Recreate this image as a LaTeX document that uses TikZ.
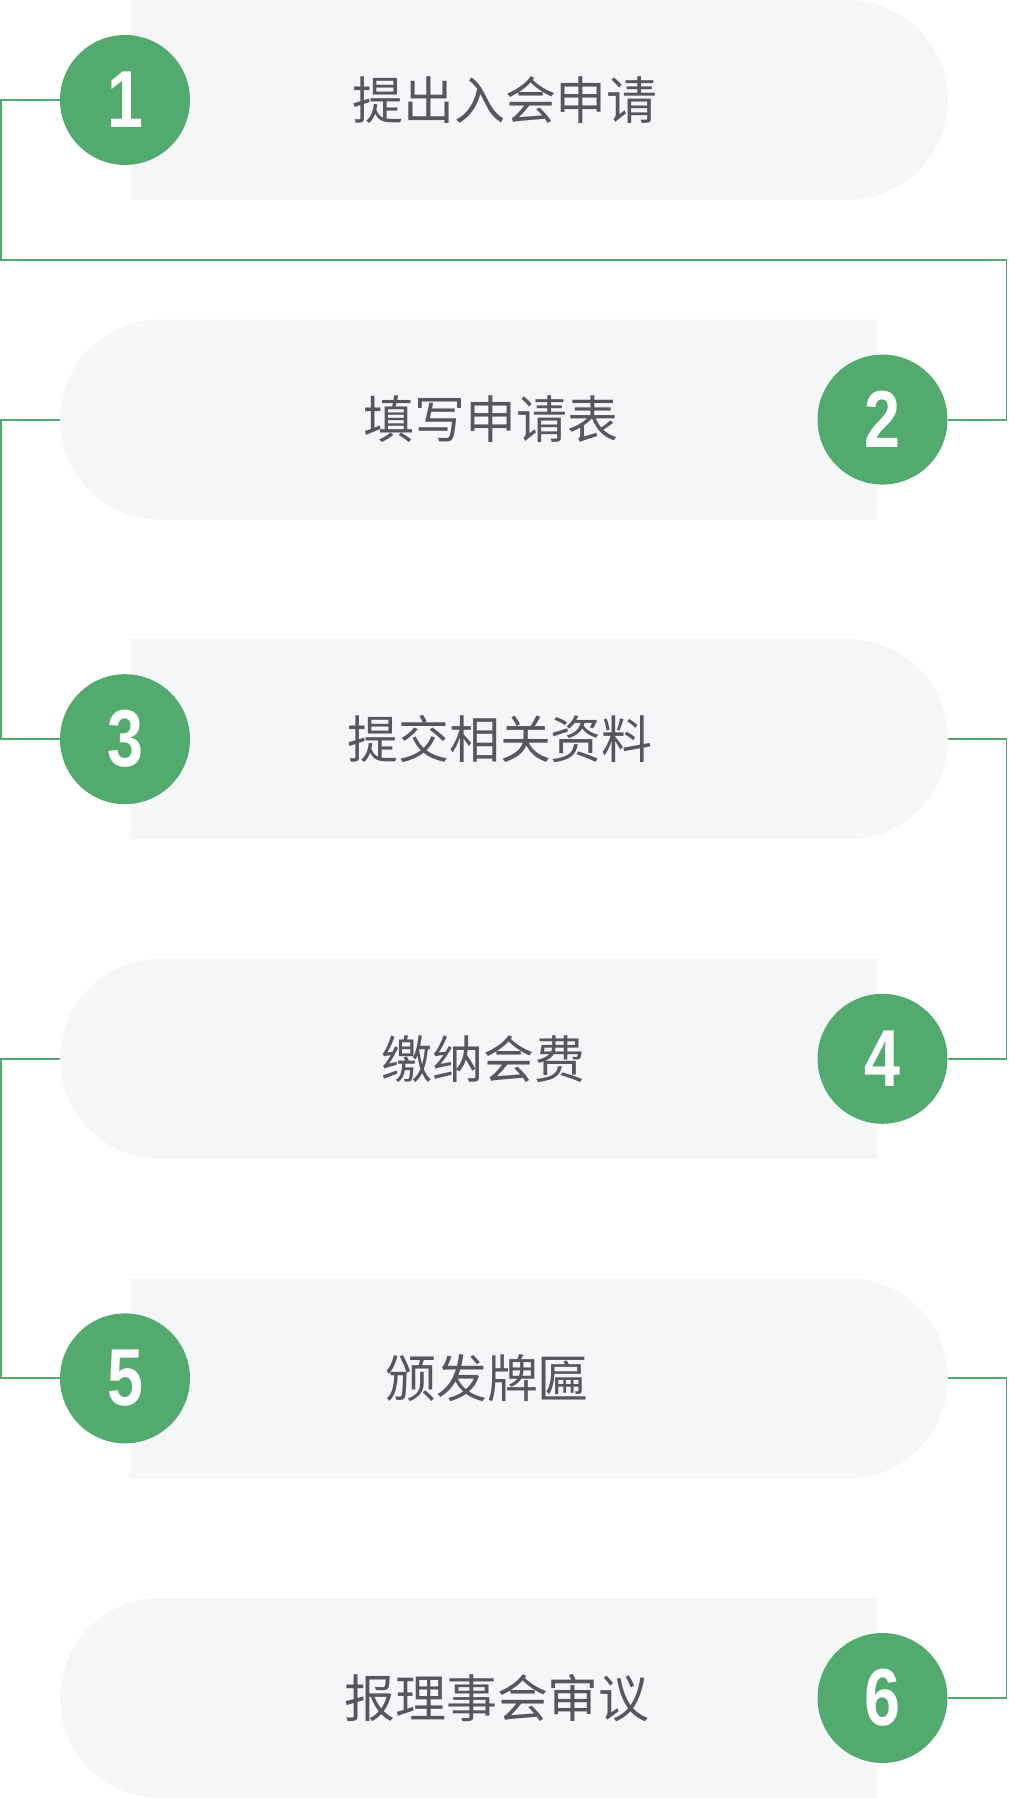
\documentclass[tikz,border=0pt]{standalone}
\usepackage{fontspec}
\usetikzlibrary{shapes.misc}
\newfontfamily\cjk{Noto Sans CJK SC}
\newfontfamily\numfont{Liberation Sans}
\definecolor{leafgreen}{HTML}{52AA6F}
\definecolor{pillgray}{HTML}{F5F6F8}
\definecolor{inkgray}{HTML}{55575C}
\newcommand{\squeeze}[1]{\scalebox{0.8}[1]{#1}}
\tikzset{
  pill/.style={rounded rectangle,fill=pillgray,inner sep=0pt,outer sep=0pt,minimum width=16.36cm,minimum height=4cm},
  badge/.style={circle,fill=leafgreen,inner sep=0pt,outer sep=0pt,minimum size=2.6cm,text=white,font=\fontsize{46}{46}\selectfont\numfont\bfseries},
  caption/.style={text=inkgray,font=\fontsize{29}{29}\selectfont\cjk},
  link/.style={draw=leafgreen,line width=1.1pt}
}
\begin{document}
\begin{tikzpicture}[x=0.02cm,y=0.02cm]
\useasboundingbox (0,0) rectangle (1008,1798);
\coordinate (railL) at (1,0);
\coordinate (railR) at (1006.5,0);
\coordinate (bend12) at (0,1538);
\foreach \i/\c/\t/\x in {1/1698/提出入会申请/505,3/1058.8/提交相关资料/500,5/419.6/颁发牌匾/487}{
  \node[pill,rounded rectangle west arc=none] (box\i) at (539,\c) {};
  \node[badge] (num\i) at (125,\c) {\squeeze{\i}};
  \node[caption] (lab\i) at (\x,\c) {\t};
}
\foreach \i/\c/\t/\x in {2/1378.4/填写申请表/491,4/739.2/缴纳会费/483.5,6/100/报理事会审议/497}{
  \node[pill,rounded rectangle east arc=none] (box\i) at (469,\c) {};
  \node[badge] (num\i) at (882.5,\c) {\squeeze{\i}};
  \node[caption] (lab\i) at (\x,\c) {\t};
}
\draw[link] (num1.west) -- (num1.west -| railL) -- (railL |- bend12) -- (railR |- bend12) -- (railR |- num2.east) -- (num2.east);
\foreach \a/\b/\s/\r in {2/3/west/railL,4/5/west/railL,3/4/east/railR,5/6/east/railR}
\draw[link] (box\a.\s) -- (box\a.\s -| \r) -- (\r |- num\b.\s) -- (num\b.\s);
\end{tikzpicture}
\end{document}
